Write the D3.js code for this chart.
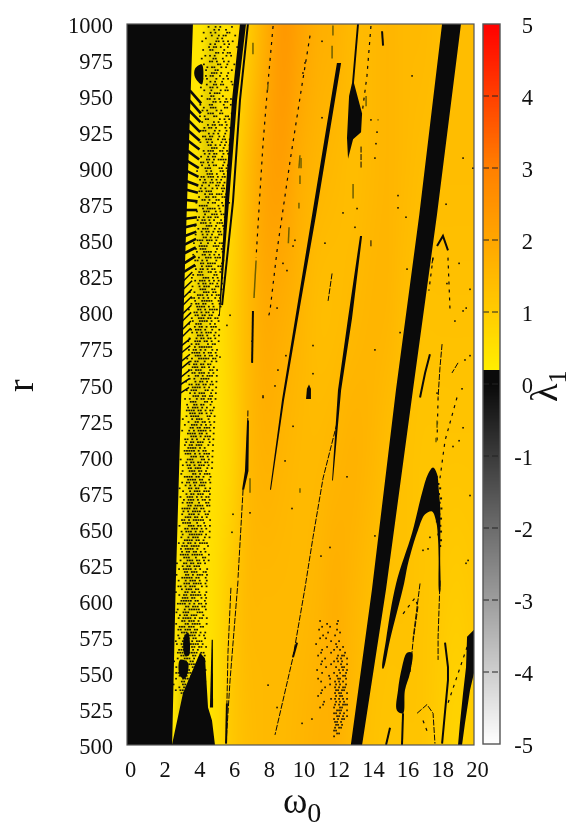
<!DOCTYPE html>
<html><head><meta charset="utf-8">
<script src="https://cdnjs.cloudflare.com/ajax/libs/d3/7.8.5/d3.min.js"></script>
<style>
html,body{margin:0;padding:0;background:#fff;width:571px;height:825px;overflow:hidden}
#field{position:absolute}
svg{position:absolute;left:0;top:0}
text{font-family:"Liberation Serif","Times New Roman",serif;fill:#111}
</style></head><body>
<canvas id="field"></canvas>
<svg id="chart" width="571" height="825"></svg>
<script>
// ---- axes
const omegaTicks = [0,2,4,6,8,10,12,14,16,18,20];
const rTicks = [500,525,550,575,600,625,650,675,700,725,750,775,800,825,850,875,900,925,950,975,1000];
const lambdaTicks = [-5,-4,-3,-2,-1,0,1,2,3,4,5];
// ---- colour map of lambda_1
const lambdaStops = [-5,0,0.19,0.2,1,3,4,5];
const lambdaColors = ["#ffffff","#0a0a0a","#0a0a0a","#ffee00","#ffcc00","#ff8000","#ff4000","#ff0000"];
// ---- coarse lambda_1 field
const fieldOmega = [3,4,5,6,7,8,9,10,11,12,13,14,15,16,17,18,19,20];
const fieldR = [1000,900,800,700,600,500];
const fieldValues = [
 [.4,.4,.4,.5,1.0,1.8,2.4,2.1,1.8,1.7,1.5,1.5,1.6,1.5,1.5,1.4,1.4,1.4],
 [.4,.4,.4,.7,1.5,2.1,2.2,1.8,1.6,1.5,1.4,1.5,1.6,1.5,1.4,1.4,1.4,1.4],
 [.4,.4,.4,.9,1.5,1.9,1.8,1.6,1.4,1.4,1.5,1.6,1.6,1.4,1.3,1.3,1.3,1.3],
 [.4,.4,.5,.8,1.5,1.7,1.6,1.5,1.5,1.6,1.7,1.6,1.4,1.3,1.2,1.2,1.2,1.2],
 [.4,.4,.6,1.1,1.5,1.5,1.5,1.5,1.6,1.8,1.6,1.4,1.3,1.3,1.2,1.1,1.0,1.1],
 [.4,.4,.5,1.1,1.4,1.5,1.5,1.6,1.7,1.7,1.5,1.3,1.2,1.2,1.2,1.0,.8,1.0]
];
// ---- regions of lambda_1 <= 0 (omega, r)
const leftBoundary = [[3.8,1000],[3.35,836],[3.17,761],[2.8,607],[2.6,500]];
const blackBands = [
 [[18.16,1000],[16.85,868],[15.5,746],[14.12,608],[12.9,500],[13.55,500],[14.93,608],[16.48,746],[17.87,868],[19.25,1000]],
 [[6.51,1000],[6.05,947],[5.65,877],[5.30,798],[5.35,798],[5.88,877],[6.34,947],[6.86,1000]],
 [[12.10,973],[10.66,867],[9.86,808],[8.93,739],[8.24,677],[8.30,677],[9.05,739],[10.03,808],[10.89,867],[12.34,973]],
 [[13.37,1000],[13.08,959],[13.55,938],[13.49,925],[13.03,920],[12.74,906.5],[12.68,921],[12.80,950],[12.97,959],[13.26,1000]],
 [[13.43,853],[12.74,796],[12.16,746],[11.82,683.5],[11.87,683.5],[12.34,746],[12.97,796],[13.55,853]],
 [[19.60,575],[19.54,554],[19.37,536],[19.19,515],[19.08,500],[19.31,500],[19.48,515],[19.77,538],[20,550],[20,580]],
 [[2.59,500],[3.23,536],[4.21,564],[4.50,560],[4.67,526],[4.90,517],[5.07,500]],
 [[4.88,573],[4.78,526],[4.96,526],[4.95,573]],
 [[10.32,740],[10.37,747],[10.49,750],[10.6,747],[10.6,740]],
 [[6.92,725],[6.80,690],[6.63,677],[6.75,677],[7.0,690],[7.03,725]]
];
const curvedBands = [
 [[14.72,553],[14.93,573],[15.51,612],[16.43,647],[17.00,674.5],[17.35,688],[17.64,692.5],[17.87,688],[17.97,677],[18.05,665],[18.06,649],[18.05,630],[18.04,606],[18.0,606],[17.96,630],[17.93,642],[17.82,655],[17.58,662],[17.18,660],[16.77,649],[16.20,626],[15.97,612],[15.16,573],[14.78,553]],
 [[16.14,564],[15.85,554],[15.62,538],[15.56,524],[15.91,522],[16.02,538],[16.31,550],[16.43,564]],
 [[3.29,575],[3.52,578],[3.57,562],[3.34,562]],
 [[3.05,559],[3.52,557],[3.34,546],[3.05,548]],
 [[3.92,969],[4.32,972],[4.32,958],[3.92,963]]
];
const thickLines = [
 [[6.97,1000],[6.51,947],[6.11,877],[5.48,805]],
 [[18.33,571],[18.50,554],[18.50,545],[18.16,501]],
 [[17.46,771],[17.18,758],[16.89,741]],
 [[17.87,846],[18.21,853],[18.50,843]],
 [[15.16,512],[14.93,500]],
 [[15.91,522],[15.85,500]],
 [[5.76,529],[5.71,501]],
 [[9.57,561],[9.80,571]],
 [[7.26,801],[7.21,765]],
 [[14.70,995],[14.76,985]]
];
const hairLines = [
 [[12.10,723],[11.30,685],[10.72,644],[10.26,609],[9.57,561],[8.53,507]],
 [[6.97,732],[6.92,699]],
 [[6.69,677],[6.40,616]],
 [[6.40,614],[5.94,545],[5.71,501]],
 [[5.99,609],[5.82,564],[5.76,529]],
 [[11.82,827],[11.59,808]],
 [[14.06,850],[14.06,845]],
 [[13.49,915],[13.49,900]],
 [[17.64,838],[17.58,834]],
 [[18.04,614],[17.93,575],[17.93,559]],
 [[19.08,765],[18.73,758]],
 [[16.77,596],[16.48,571],[16.31,550]],
 [[16.89,612],[16.48,573]],
 [[16.72,522],[17.29,528],[17.64,522],[17.75,501]],
 [[18.16,778],[18.04,762],[17.93,741]]
];
const dashedLines = [
 [[8.42,998.6],[8.07,951.5],[7.84,917],[7.67,884],[7.44,838]],
 [[10.55,992],[10.09,958],[9.40,905],[8.65,843],[8.24,801],[8.13,796]],
 [[14.06,998.6],[13.83,964],[13.55,938]],
 [[18.50,838],[18.62,801]],
 [[17.93,741],[17.87,711]],
 [[19.02,741],[18.33,711],[18.04,685]],
 [[19.60,568],[18.50,529]],
 [[15.91,591],[16.60,602],[16.77,596]],
 [[17.06,517],[17.35,508]],
 [[17.64,838],[17.40,815]]
];
const oliveLines = [
 [[7.44,836],[7.32,810]],[[7.26,987],[7.26,979]],[[10.03,907],[10.03,900]],[[9.97,895],[9.97,889]],
 [[9.91,876],[9.91,872]],[[9.34,859],[9.30,848]],[[11.87,999],[11.87,992]],[[11.82,985],[11.82,976]],
 [[13.03,889],[13.03,879]],[[13.78,950],[13.78,943]],[[14.47,934],[14.47,933]],[[9.97,909],[9.91,900]],
 [[8.13,958],[8.10,954]],[[7.09,685],[7.09,675]],[[9.97,678],[9.97,675]],[[17.87,725],[17.87,720]],[[17.81,713],[17.81,710]]
];
const isolatedDots = [
 [11.24,988],[10.26,973],[10.14,966],[16.43,964],[11.24,935],[14.06,933.5],[14.41,925],[14.35,917],[14.29,907],[15.62,881],[18.39,875],[19.37,907],[19.94,900],
 [16.08,866],[15.62,872.5],[12.45,869],[13.26,872],[13.14,859],[11.41,848],[16.14,830],[19.14,834],[18.44,820],[19.77,816],[19.37,801],[19.55,803],[18.90,794],[14.29,774],[15.74,786],[10.72,777],[17.87,744],[19.48,767],[19.77,770],[19.31,747],
 [12.68,686],[14.29,645],[11.18,631],[11.70,637],[17.46,644],[17.35,636],[17.06,635],[19.77,673],[19.14,711],[18.79,707],[19.37,720],[19.54,626],[19.66,628],
 [8.65,526],[10.09,515],[10.66,518],[8.13,541.5],[6.11,660],[6.05,647.5],[7.09,661],[7.84,742],[9.57,721],[9.11,697],[9.51,664],
 [5.76,791],[7.21,780],[7.84,741],[5.94,798],[5.36,769],[8.99,834],[9.22,829],[8.65,803],[9.57,846],[9.68,850],[9.16,770],[8.70,760],[8.53,749],[10.72,757.5]
];
// ---- speckle of the chaotic strip, one row per 2 units of r from r=998, 16 cells per row as hex
const speckleTop = 998;
const speckleStart = [[1000,4.3],[900,4.05],[800,3.55],[700,3.1],[600,2.8],[500,2.6]];
const speckleHex = (
"1284 0520 4a18 0962 2140 8354 0a28 1691 4c20 0358 2a14 8640 "+
"0d28 4192 1650 a304 0748 2c90 5128 0a44 1362 8d10 2458 0b80 "+
"4620 1a94 0358 8c24 2718 5140 0e62 a318 1854 4290 0b68 2d14 "+
"7148 0a92 3650 1cb4 4a28 0d54 8390 2e68 1594 4b20 0d78 6a14 "+
"2594 1c68 8a34 0e90 3758 52a4 1b68 a4d0 2958 6e14 0b74 4d98 "+
"1a64 8596 3c28 17a4 4e50 09d8 2b64 5a90 1d38 8748 2e54 16b4 "+
"4a98 0d64 3ba0 9258 1e74 5c28 27a4 8d50 13b8 6a24 0de4 4b98 "+
"2d64 19a8 5c30 8754 2ea8 16d4 4b98 0e64 a3b0 1d58 6a94 27c8 "+
"5b24 1ea4 8d78 35a0 1b64 4ed8 27a4 9c50 16b8 5d24 2ae8 0e94 "+
"4b68 9da4 2c58 17e0 5a94 3d68 0eb4 a7d8 2c94 5b60 1da8 6e34 "+
"1ba8 4d74 29e0 8b54 36d8 1ea4 5c68 2b94 0ed8 a5b4 1c68 4d90 "+
"2ea4 7b58 1da8 5e34 8b90 26d4 4ea8 1b74 95e8 3da4 0eb8 6a54 "+
"2dc8 5b94 1ea0 7d64 3ab8 0ed4 9c68 2db4 5ae8 1b94 4ed0 86b8 "+
"3da4 1ec8 5b74 2ae0 8d94 4bb8 16e4 9d58 2eb4 5c98 0dec 7b60 "+
"2bd4 4e98 1da8 6be4 3c90 8ed4 1ba8 5d64 27e8 4b94 1ed0 ad78 "+
"3bc4 5e90 2da8 7be4 1c98 4ed4 9b68 2dc0 5ea4 1b98 8d74 3ec8 "+
"4ba4 1de8 6b94 2ec0 8da4 5be8 1d94 3ec8 7ab4 0dd8 4be4 9c70 "+
"2dc8 5eb4 1ba0 8de4 3b98 6ec0 1dd4 4ba8 2ec4 9d70 5be8 1db4 "+
"3ea0 7bd8 1cc4 4ea8 8d94 2be0 5cd8 1ea4 6bc0 3dd8 4e90 1bb4 "+
"8ca0 2ed8 5b94 1cc0"
).split(" ");
// speckle cluster near omega 12: rows every 2 units of r from r=586, 16 cells from omega 10.9
const clusterTop = 586;
const clusterStart = 10.9;
const clusterHex = (
"2010 0420 1100 4020 0208 1040 2400 0110 8020 0424 1048 2102 "+
"4016 0829 1054 2109 0426 8015 1049 0226 4119 2054 0129 0856 "+
"1036 2059 402c 0155 082a 1057 204c 0039 006a 0035 0056 0068 "+
"0034 0058 0060 0030 0040"
).split(" ");
const archDots = [
 [17.62,687],[17.85,686],[17.7,682],[17.95,681],[18.05,678],[17.75,676],[17.98,674],[18.1,671],[17.8,670],[18.02,668],[17.68,667],[17.92,665],[18.12,664],[17.78,661],[18.0,660],[18.1,657],[17.86,655],[18.06,652],[18.1,648],[17.95,646],[18.1,642],[18.05,638]
];
const speckleBand = [[4.65,1000],[4.2,900],[3.9,800],[3.5,700],[3.1,600],[2.9,520],[3.5,520],[3.9,600],[4.3,700],[4.7,800],[5.0,900],[5.35,1000]];
// feather teeth at the left edge of the strip
const toothR = [954,947,940,933,926,919,912,905,898,891,885,878,871,865,859,853,847,841,834,828,822,816,810,805,799,794,788,783,777,772,766,761,755,750,744];
const toothDr = [-9,-9,-8,-8,-7,-6,-6,-5,-4,-3,-2,-1,0,1,2,3,4,4,5,5,6,6,6,6,6,6,6,6,5,5,5,5,5,4,4];

// ---- scales
const x = d3.scaleLinear().domain([0,20]).range([127,474]);
const y = d3.scaleLinear().domain([500,1000]).range([745,24]);
const cy = d3.scaleLinear().domain([-5,5]).range([744,24]);
const color = d3.scaleLinear().domain(lambdaStops).range(lambdaColors).interpolate(d3.interpolateRgb);
const pw = x(20)-x(0), ph = y(500)-y(1000);

// ---- field, painted smoothly from the coarse table
const cv = document.getElementById('field');
cv.width = pw; cv.height = ph;
cv.style.left = x(0)+'px'; cv.style.top = y(1000)+'px';
const small = document.createElement('canvas');
small.width = fieldOmega.length; small.height = fieldR.length;
const sc = small.getContext('2d');
fieldValues.forEach((row,j)=>row.forEach((v,i)=>{sc.fillStyle=color(v);sc.fillRect(i,j,1,1);}));
const ctx = cv.getContext('2d');
ctx.imageSmoothingEnabled = true; ctx.imageSmoothingQuality = 'high';
const dO = fieldOmega[1]-fieldOmega[0], dR = fieldR[0]-fieldR[1];
const x0 = x(fieldOmega[0]-dO/2), x1 = x(fieldOmega[fieldOmega.length-1]+dO/2);
const y0 = y(fieldR[0]+dR/2), y1 = y(fieldR[fieldR.length-1]-dR/2);
ctx.drawImage(small, x0-x(0), y0-y(1000), x1-x0, y1-y0);

// ---- marks
const svg = d3.select('#chart');
const defs = svg.append('defs');
defs.append('clipPath').attr('id','plot').append('rect').attr('x',x(0)).attr('y',y(1000)).attr('width',pw).attr('height',ph);
defs.append('filter').attr('id','soft').append('feGaussianBlur').attr('stdDeviation',3);
const ink = '#0a0a0a';
const plot = svg.append('g').attr('clip-path','url(#plot)');
const line = d3.line().x(d=>x(d[0])).y(d=>y(d[1]));
const area = d => line(d)+'Z';
const smooth = d3.line().x(d=>x(d[0])).y(d=>y(d[1])).curve(d3.curveCatmullRomClosed.alpha(.5));

plot.append('path').attr('d',area(speckleBand)).attr('fill','#000').attr('opacity',.1).attr('filter','url(#soft)');

const unpack = (hex,i,top,start,cellW) => {
  const r = top-2*i, out = [];
  [...hex].forEach((h,k)=>{
    const n = parseInt(h,16);
    [8,4,2,1].forEach((b,m)=>{ if(n&b) out.push([start(r)+(k*4+m+(i%2)*.5)*cellW, r]); });
  });
  return out;
};
const startAt = d3.scaleLinear().domain(speckleStart.map(d=>d[0])).range(speckleStart.map(d=>d[1]));
const speckle = speckleHex.flatMap((h,i)=>unpack(h,i,speckleTop,startAt,.135));
const cluster = clusterHex.flatMap((h,i)=>unpack(h,i,clusterTop,()=>clusterStart,.115));
const dots = (data,w,h,o)=>plot.append('g').attr('fill',ink).attr('opacity',o).selectAll('rect').data(data).join('rect')
  .attr('x',d=>x(d[0])-w/2).attr('y',d=>y(d[1])-h/2).attr('width',w).attr('height',h);
dots(speckle,1.8,1.6,.95);
dots(cluster,1.7,1.7,.9);
dots(archDots,2,2,.95);
dots(isolatedDots,1.6,1.6,.95);

const boundaryPoly = [[0,1000],...leftBoundary,[0,500]];
plot.append('path').attr('d',area(boundaryPoly)).attr('fill',ink);
const edge = d3.scaleLinear().domain(leftBoundary.map(d=>d[1])).range(leftBoundary.map(d=>d[0]));
plot.append('g').selectAll('line').data(toothR).join('line')
  .attr('x1',d=>x(edge(d))-1).attr('y1',d=>y(d))
  .attr('x2',(d,i)=>x(edge(d)+(i<20?.6:.45))).attr('y2',(d,i)=>y(d+toothDr[i]))
  .attr('stroke',ink).attr('stroke-width',(d,i)=>i<20?2.6:1.5);
plot.append('g').selectAll('path').data(blackBands).join('path').attr('d',area).attr('fill',ink);
plot.append('g').selectAll('path').data(curvedBands).join('path').attr('d',smooth).attr('fill',ink);
plot.append('g').selectAll('path').data(thickLines).join('path').attr('d',line).attr('fill','none').attr('stroke',ink).attr('stroke-width',2);
plot.append('g').selectAll('path').data(hairLines).join('path').attr('d',line).attr('fill','none').attr('stroke',ink).attr('stroke-width',1).attr('stroke-dasharray','6 1.5');
plot.append('g').selectAll('path').data(dashedLines).join('path').attr('d',line).attr('fill','none').attr('stroke',ink).attr('stroke-width',1.2).attr('stroke-dasharray','3 5');
plot.append('g').selectAll('path').data(oliveLines).join('path').attr('d',line).attr('fill','none').attr('stroke','#6e5f00').attr('stroke-width',1.5);

svg.append('rect').attr('x',x(0)).attr('y',y(1000)).attr('width',pw).attr('height',ph)
  .attr('fill','none').attr('stroke','#555').attr('stroke-width',1.2);

// ---- axes
const fs = 22.5;
const plain = d3.format('d');
const hyphen = d => String(d);
const gx = svg.append('g').attr('transform',`translate(0,${y(500)})`)
  .call(d3.axisBottom(x).tickValues(omegaTicks).tickFormat(plain).tickSize(0).tickPadding(16));
gx.select('.domain').remove();
gx.selectAll('text').attr('font-size',fs).attr('x',3).attr('dy','.71em').attr('font-family','Liberation Serif').style('fill','#111');
const gy = svg.append('g').attr('transform',`translate(${x(0)},0)`)
  .call(d3.axisLeft(y).tickValues(rTicks).tickFormat(plain).tickSize(0).tickPadding(14));
gy.select('.domain').remove();
gy.selectAll('text').attr('font-size',fs).attr('dy',8.5).attr('font-family','Liberation Serif').style('fill','#111');

// ---- colour bar
const barX = 483, barW = 17, step = .02;
svg.append('g').selectAll('rect').data(d3.range(-5,5,step)).join('rect')
  .attr('x',barX).attr('width',barW).attr('y',d=>cy(d+step)).attr('height',d=>cy(d)-cy(d+step)+.5)
  .attr('fill',d=>color(d+step/2)).attr('shape-rendering','crispEdges');
svg.append('g').selectAll('line').data(lambdaTicks.slice(1,-1)).join('line')
  .attr('x1',barX).attr('x2',barX+barW).attr('y1',d=>cy(d)).attr('y2',d=>cy(d))
  .attr('stroke','#222').attr('stroke-width',1).attr('stroke-dasharray','6 3');
svg.append('rect').attr('x',barX).attr('y',cy(5)).attr('width',barW).attr('height',cy(-5)-cy(5))
  .attr('fill','none').attr('stroke','#555').attr('stroke-width',1.4);
const gc = svg.append('g').attr('transform',`translate(${barX+barW},0)`)
  .call(d3.axisRight(cy).tickValues(lambdaTicks).tickFormat(hyphen).tickSize(0).tickPadding(33));
gc.select('.domain').remove();
gc.selectAll('text').attr('font-size',fs).attr('text-anchor','end').attr('dy',8.5).attr('font-family','Liberation Serif').style('fill','#111');

// ---- axis titles
const xt = svg.append('text').attr('x',283).attr('y',813).attr('font-size',37);
xt.append('tspan').text('ω');
xt.append('tspan').attr('font-size',28).attr('dy',9).text('0');
svg.append('text').attr('transform','translate(33,392) rotate(-90)').attr('font-size',38).text('r');
const lt = svg.append('text').attr('transform','translate(557,402) rotate(-90)').attr('font-size',38);
lt.append('tspan').text('λ');
lt.append('tspan').attr('font-size',26).attr('dy',9).text('1');
</script>
</body></html>
